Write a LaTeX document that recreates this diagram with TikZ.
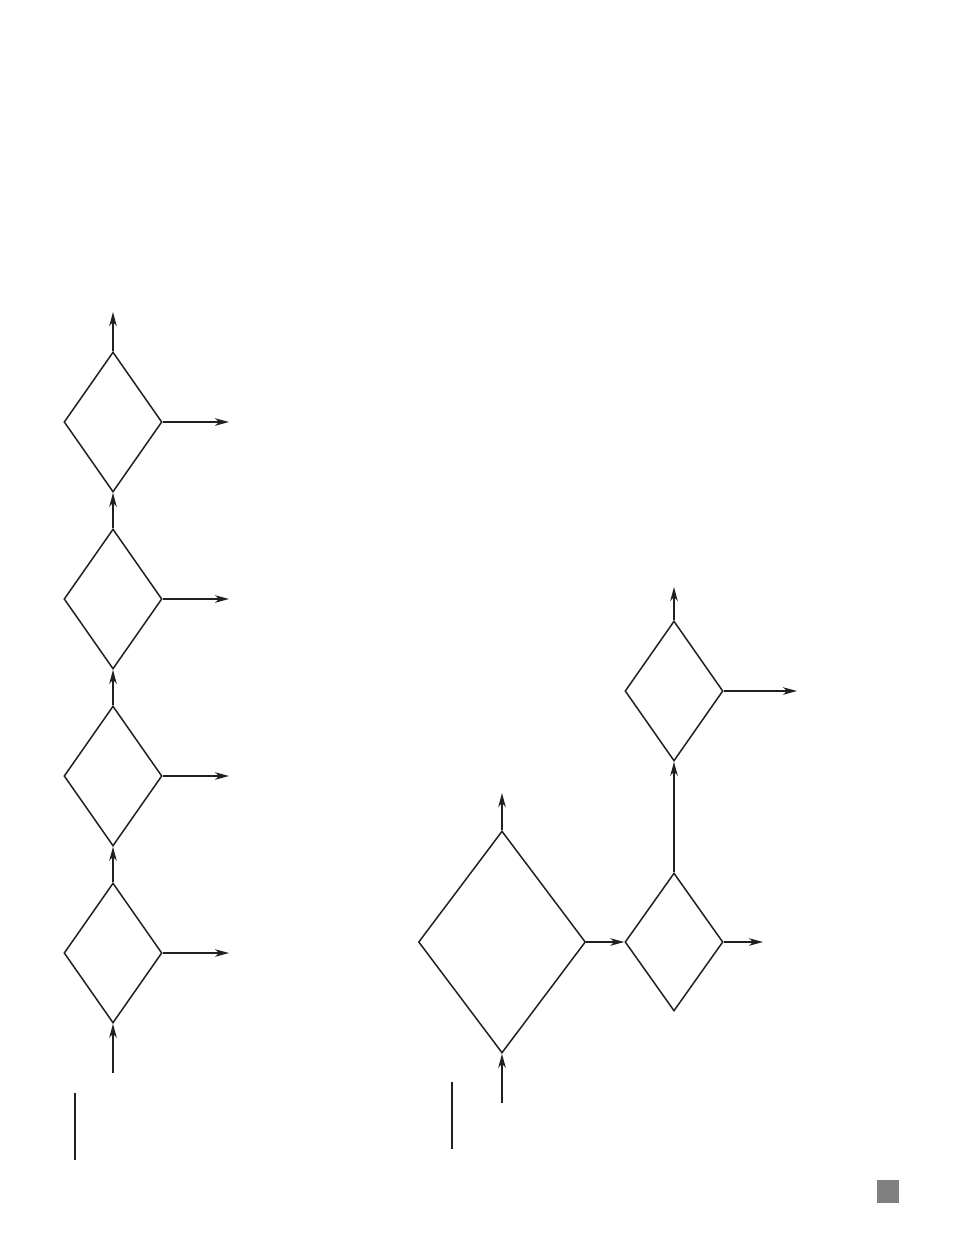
\documentclass[tikz,border=0pt]{standalone}
\usetikzlibrary{shapes.geometric,arrows.meta}
\definecolor{ink}{HTML}{231F20}
\definecolor{boxgray}{HTML}{808080}
\tikzset{
  dia/.style={draw=ink, shape=diamond, inner sep=0pt, line width=1.5pt, minimum width=98pt, minimum height=140pt},
  arr/.style={draw=ink, line width=1.4pt, -{Stealth[length=14pt,width=7.5pt,inset=4pt]}},
  thinline/.style={draw=ink, line width=1.2pt}
}
\begin{document}
\begin{tikzpicture}[x=1pt,y=-1pt]
\useasboundingbox (0,0) rectangle (954,1235);
% left column
\node[dia] (d1) at (113,422) {};
\node[dia] (d2) at (113,599) {};
\node[dia] (d3) at (113,776) {};
\node[dia] (d4) at (113,953) {};
\coordinate (ltop) at (113,312);
\coordinate (lin) at (113,1073);
\coordinate (r1) at (229,422);
\coordinate (r2) at (229,599);
\coordinate (r3) at (229,776);
\coordinate (r4) at (229,953);
\draw[arr] (d1.north) -- (ltop);
\draw[arr] (d2.north) -- (d1.south);
\draw[arr] (d3.north) -- (d2.south);
\draw[arr] (d4.north) -- (d3.south);
\draw[arr] (lin) -- (d4.south);
\draw[arr] (d1.east) -- (r1);
\draw[arr] (d2.east) -- (r2);
\draw[arr] (d3.east) -- (r3);
\draw[arr] (d4.east) -- (r4);
\coordinate (lb1) at (75,1093);
\coordinate (lb2) at (75,1160);
\draw[thinline] (lb1) -- (lb2);
% right group
\node[dia, minimum width=167pt, minimum height=222pt] (big) at (502,942) {};
\node[dia, minimum height=138pt] (s) at (674,942) {};
\node[dia] (t) at (674,691) {};
\coordinate (bin) at (502,1103);
\coordinate (btop) at (502,793);
\coordinate (ttop) at (674,587);
\coordinate (tr) at (797,691);
\coordinate (sr) at (763,942);
\draw[arr] (bin) -- (big.south);
\draw[arr] (big.north) -- (btop);
\draw[arr] (big.east) -- (s.west);
\draw[arr] (s.north) -- (t.south);
\draw[arr] (t.north) -- (ttop);
\draw[arr] (t.east) -- (tr);
\draw[arr] (s.east) -- (sr);
\coordinate (rb1) at (452,1082);
\coordinate (rb2) at (452,1149);
\draw[thinline] (rb1) -- (rb2);
\fill[boxgray] (877,1180) rectangle (899,1203);
\end{tikzpicture}
\end{document}
